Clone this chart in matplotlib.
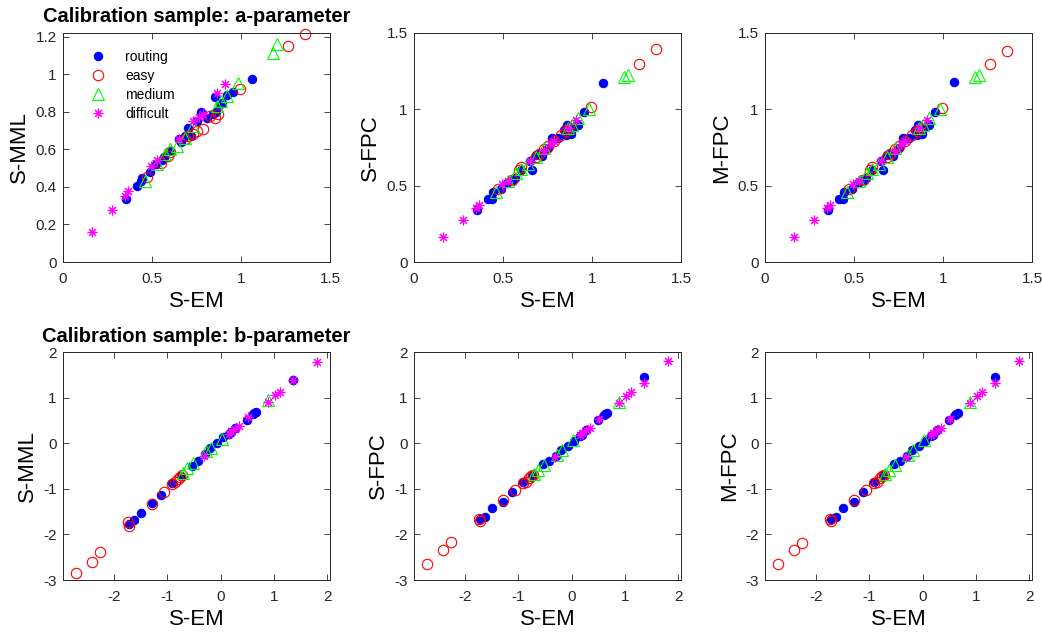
import matplotlib
matplotlib.use("Agg")
import matplotlib.pyplot as plt

plt.rcParams['font.family'] = ['Liberation Sans', 'DejaVu Sans']
plt.rcParams['axes.unicode_minus'] = False

# a-parameter: S-EM estimates and the three other methods
routing_a_em = [0.352, 0.418, 0.437, 0.446, 0.49, 0.52, 0.558, 0.565, 0.60, 0.65, 0.661, 0.685,
                0.705, 0.72, 0.75, 0.775, 0.81, 0.845, 0.855, 0.86, 0.88, 0.895, 0.92, 0.955, 1.06]
routing_a_smml = [0.333, 0.407, 0.43, 0.446, 0.478, 0.52, 0.545, 0.557, 0.59, 0.655, 0.64, 0.672,
                  0.716, 0.672, 0.75, 0.80, 0.766, 0.79, 0.878, 0.80, 0.84, 0.848, 0.89, 0.906, 0.975]
routing_a_sfpc = [0.341, 0.413, 0.413, 0.46, 0.478, 0.52, 0.537, 0.55, 0.60, 0.66, 0.602, 0.70,
                  0.71, 0.696, 0.75, 0.81, 0.81, 0.864, 0.83, 0.90, 0.84, 0.88, 0.90, 0.985, 1.174]
routing_a_mfpc = [0.341, 0.413, 0.415, 0.46, 0.478, 0.52, 0.537, 0.55, 0.60, 0.66, 0.605, 0.70,
                  0.71, 0.696, 0.75, 0.81, 0.81, 0.862, 0.83, 0.90, 0.84, 0.88, 0.90, 0.985, 1.177]

easy_a_em = [0.47, 0.55, 0.59, 0.601, 0.685, 0.70, 0.732, 0.751, 0.785, 0.826, 0.854, 0.873, 0.994, 1.266, 1.36]
easy_a_smml = [0.455, 0.53, 0.566, 0.584, 0.654, 0.67, 0.681, 0.698, 0.711, 0.778, 0.769, 0.787, 0.919, 1.153, 1.213]
easy_a_sfpc = [0.48, 0.54, 0.60, 0.62, 0.69, 0.71, 0.74, 0.76, 0.79, 0.83, 0.86, 0.88, 1.013, 1.295, 1.393]
easy_a_mfpc = [0.48, 0.54, 0.60, 0.62, 0.69, 0.71, 0.74, 0.76, 0.79, 0.83, 0.86, 0.88, 1.012, 1.295, 1.382]

medium_a_em = [0.46, 0.526, 0.573, 0.601, 0.639, 0.685, 0.732, 0.863, 0.89, 0.92, 0.985, 1.18, 1.204]
medium_a_smml = [0.434, 0.522, 0.575, 0.601, 0.619, 0.663, 0.725, 0.83, 0.857, 0.884, 0.954, 1.113, 1.16]
medium_a_sfpc = [0.46, 0.53, 0.585, 0.61, 0.64, 0.69, 0.75, 0.88, 0.90, 0.94, 1.00, 1.21, 1.227]
medium_a_mfpc = [0.46, 0.53, 0.585, 0.61, 0.64, 0.69, 0.75, 0.88, 0.90, 0.94, 1.00, 1.21, 1.225]

difficult_a_em = [0.165, 0.273, 0.348, 0.367, 0.492, 0.526, 0.65, 0.732, 0.766, 0.788, 0.863, 0.91]
difficult_a_smml = [0.16, 0.279, 0.354, 0.377, 0.513, 0.543, 0.655, 0.751, 0.772, 0.79, 0.901, 0.949]
difficult_a_sfpc = [0.162, 0.275, 0.352, 0.373, 0.51, 0.53, 0.66, 0.73, 0.77, 0.79, 0.88, 0.93]
difficult_a_mfpc = [0.162, 0.275, 0.352, 0.373, 0.51, 0.53, 0.66, 0.73, 0.77, 0.79, 0.88, 0.93]

# b-parameter
routing_b_em = [-1.72, -1.62, -1.48, -1.29, -1.12, -0.90, -0.74, -0.54, -0.42, -0.30, -0.20, -0.07,
                0.05, 0.15, 0.19, 0.28, 0.49, 0.60, 0.63, 0.66, 1.36]
routing_b_smml = [-1.77, -1.69, -1.53, -1.31, -1.13, -0.87, -0.72, -0.51, -0.38, -0.24, -0.11, 0.01,
                  0.13, 0.20, 0.25, 0.33, 0.51, 0.64, 0.66, 0.69, 1.38]
routing_b_sfpc = [-1.66, -1.62, -1.42, -1.30, -1.08, -0.86, -0.70, -0.46, -0.40, -0.27, -0.15, -0.06,
                  0.05, 0.15, 0.18, 0.30, 0.51, 0.61, 0.65, 0.67, 1.45]
routing_b_mfpc = [-1.66, -1.62, -1.42, -1.30, -1.07, -0.86, -0.70, -0.46, -0.40, -0.27, -0.15, -0.06,
                  0.05, 0.15, 0.18, 0.30, 0.51, 0.61, 0.65, 0.67, 1.45]

easy_b_em = [-2.71, -2.41, -2.25, -1.73, -1.71, -1.28, -1.05, -0.90, -0.86, -0.80, -0.76, -0.72]
easy_b_smml = [-2.84, -2.60, -2.38, -1.72, -1.82, -1.33, -1.06, -0.89, -0.84, -0.78, -0.74, -0.70]
easy_b_sfpc = [-2.66, -2.34, -2.17, -1.67, -1.70, -1.24, -1.02, -0.88, -0.84, -0.76, -0.72, -0.69]
easy_b_mfpc = [-2.66, -2.35, -2.18, -1.67, -1.70, -1.24, -1.02, -0.88, -0.84, -0.76, -0.72, -0.69]

medium_b_em = [-0.71, -0.62, -0.51, -0.28, -0.18, 0.02, 0.89]
medium_b_smml = [-0.66, -0.55, -0.44, -0.18, -0.11, 0.09, 0.95]
medium_b_sfpc = [-0.67, -0.58, -0.47, -0.26, -0.15, 0.06, 0.91]
medium_b_mfpc = [-0.67, -0.58, -0.47, -0.26, -0.15, 0.06, 0.91]

difficult_b_em = [-0.31, 0.15, 0.20, 0.27, 0.34, 0.52, 0.89, 1.02, 1.12, 1.35, 1.80]
difficult_b_smml = [-0.28, 0.20, 0.26, 0.31, 0.38, 0.57, 0.91, 1.05, 1.13, 1.38, 1.78]
difficult_b_sfpc = [-0.31, 0.17, 0.22, 0.28, 0.33, 0.52, 0.89, 1.03, 1.13, 1.32, 1.80]
difficult_b_mfpc = [-0.31, 0.17, 0.22, 0.28, 0.33, 0.52, 0.89, 1.03, 1.13, 1.33, 1.80]

groups = ['routing', 'easy', 'medium', 'difficult']
styles = {
    'routing': dict(marker='o', color='#0000ff', mfc='#0000ff', ms=6),
    'easy': dict(marker='o', color='#ff0000', mfc='none', ms=7.5),
    'medium': dict(marker='^', color='#00ff00', mfc='none', ms=8),
    'difficult': dict(marker=(8, 2, 0), color='#ff00ff', mfc='none', ms=7),
}

a_em = [routing_a_em, easy_a_em, medium_a_em, difficult_a_em]
a_ys = {
    'S-MML': [routing_a_smml, easy_a_smml, medium_a_smml, difficult_a_smml],
    'S-FPC': [routing_a_sfpc, easy_a_sfpc, medium_a_sfpc, difficult_a_sfpc],
    'M-FPC': [routing_a_mfpc, easy_a_mfpc, medium_a_mfpc, difficult_a_mfpc],
}
b_em = [routing_b_em, easy_b_em, medium_b_em, difficult_b_em]
b_ys = {
    'S-MML': [routing_b_smml, easy_b_smml, medium_b_smml, difficult_b_smml],
    'S-FPC': [routing_b_sfpc, easy_b_sfpc, medium_b_sfpc, difficult_b_sfpc],
    'M-FPC': [routing_b_mfpc, easy_b_mfpc, medium_b_mfpc, difficult_b_mfpc],
}

W, H = 1042, 634
fig = plt.figure(figsize=(W / 100, H / 100), dpi=100)
lefts = [63, 414, 765]
gray = '#262626'


def style_axes(ax):
    ax.tick_params(direction='in', top=True, right=True, labelsize=11,
                   colors=gray, length=4, width=0.6)
    ax.tick_params(axis='x', pad=7.5)
    ax.tick_params(axis='y', pad=4.5)
    for s in ax.spines.values():
        s.set_color(gray)
        s.set_linewidth(0.7)


for col, method in enumerate(['S-MML', 'S-FPC', 'M-FPC']):
    # top row: a-parameter
    ax = fig.add_axes([lefts[col] / W, (H - 262) / H, 267 / W, 229 / H])
    for g, xs, ys in zip(groups, a_em, a_ys[method]):
        st = styles[g]
        ax.plot(xs, ys, ls='none', marker=st['marker'], color=st['color'], mfc=st['mfc'],
                ms=st['ms'], mew=0.8, label=g, clip_on=False)
    ax.set_xlim(0, 1.5)
    ax.set_xticks([0, 0.5, 1, 1.5])
    ax.set_xticklabels(['0', '0.5', '1', '1.5'])
    if col == 0:
        ax.set_ylim(0, 1.22)
        ax.set_yticks([0, 0.2, 0.4, 0.6, 0.8, 1.0, 1.2])
        ax.set_yticklabels(['0', '0.2', '0.4', '0.6', '0.8', '1', '1.2'])
        ax.legend(loc='upper left', frameon=False, fontsize=10, handletextpad=1.0,
                  borderpad=0.5, labelspacing=0.35, bbox_to_anchor=(0.026, 0.985))
    else:
        ax.set_ylim(0, 1.5)
        ax.set_yticks([0, 0.5, 1, 1.5])
        ax.set_yticklabels(['0', '0.5', '1', '1.5'])
    ax.set_xlabel('S-EM', fontsize=16, labelpad=3.5)
    ax.set_ylabel(method, fontsize=16, labelpad=4)
    style_axes(ax)
    if col == 0:
        fig.text((lefts[col] + 133.5) / W, 1 - 17 / H, 'Calibration sample: a-parameter',
                 fontsize=14.5, fontweight='bold', ha='center', va='center')

    # bottom row: b-parameter
    ax = fig.add_axes([lefts[col] / W, (H - 580) / H, 267 / W, 228 / H])
    for g, xs, ys in zip(groups, b_em, b_ys[method]):
        st = styles[g]
        ax.plot(xs, ys, ls='none', marker=st['marker'], color=st['color'], mfc=st['mfc'],
                ms=st['ms'], mew=0.8, label=g, clip_on=False)
    ax.set_xlim(-2.95, 2.05)
    ax.set_ylim(-3, 2)
    ax.set_xticks([-2, -1, 0, 1, 2])
    ax.set_yticks([-3, -2, -1, 0, 1, 2])
    ax.set_xlabel('S-EM', fontsize=16, labelpad=3.5)
    ax.set_ylabel(method, fontsize=16, labelpad=4)
    style_axes(ax)
    if col == 0:
        fig.text((lefts[col] + 133.5) / W, 1 - 336 / H, 'Calibration sample: b-parameter',
                 fontsize=14.5, fontweight='bold', ha='center', va='center')

fig.savefig('out.png', dpi=100)
